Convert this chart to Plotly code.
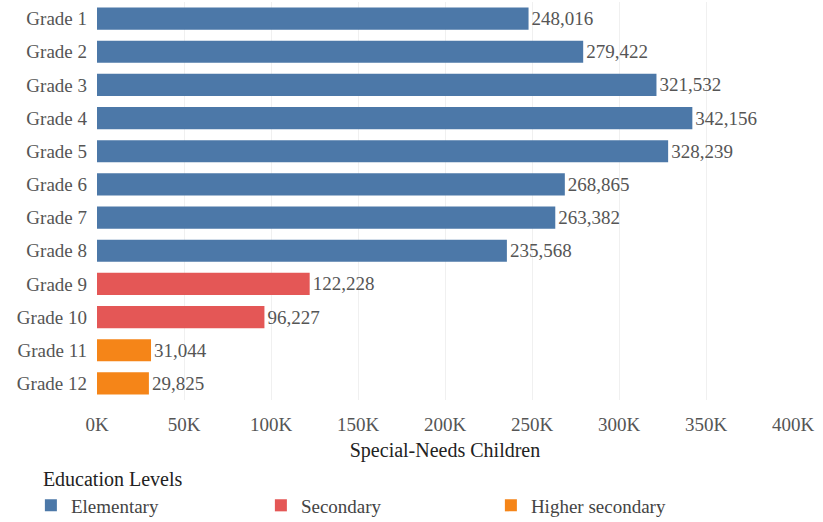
import plotly.graph_objects as go

grades = ["Grade 1", "Grade 2", "Grade 3", "Grade 4", "Grade 5", "Grade 6",
          "Grade 7", "Grade 8", "Grade 9", "Grade 10", "Grade 11", "Grade 12"]
children = [248016, 279422, 321532, 342156, 328239, 268865,
            263382, 235568, 122228, 96227, 31044, 29825]
levels = ["Elementary"] * 8 + ["Secondary"] * 2 + ["Higher secondary"] * 2
level_order = ["Elementary", "Secondary", "Higher secondary"]
level_colors = {"Elementary": "#4c78a8", "Secondary": "#e45756", "Higher secondary": "#f58518"}
tick_vals = [0, 50000, 100000, 150000, 200000, 250000, 300000, 350000, 400000]
tick_text = ["0K", "50K", "100K", "150K", "200K", "250K", "300K", "350K", "400K"]

FONT = "Liberation Serif, Times New Roman, serif"

fig = go.Figure()
for lvl in level_order:
    ys = [g for g, l in zip(grades, levels) if l == lvl]
    xs = [v for v, l in zip(children, levels) if l == lvl]
    fig.add_trace(go.Bar(
        y=ys, x=xs, orientation="h", name=lvl,
        marker=dict(color=level_colors[lvl], line=dict(width=0)),
        text=[f"{v:,}" for v in xs], textposition="outside",
        textfont=dict(family=FONT, size=19, color="#555555"),
        cliponaxis=False,
    ))

fig.update_layout(
    width=823, height=522,
    margin=dict(l=97, r=30, t=2, b=122, autoexpand=False),
    paper_bgcolor="white", plot_bgcolor="white",
    bargap=0.33,
    font=dict(family=FONT, size=19, color="#444444"),
    showlegend=True,
    legend=dict(
        orientation="h", x=-0.095, xanchor="left",
        y=-0.152, yanchor="top",
        title=dict(text="\u00a0\u00a0Education Levels", side="top",
                   font=dict(family=FONT, size=20, color="#222222")),
        font=dict(family=FONT, size=19, color="#444444"),
        entrywidth=185, entrywidthmode="pixels",
        traceorder="normal", tracegroupgap=0,
    ),
)
fig.update_xaxes(
    range=[0, 400000], tickvals=tick_vals, ticktext=tick_text,
    showgrid=True, gridcolor="#f0f0f0", zeroline=False, showline=False,
    tickfont=dict(family=FONT, size=19, color="#555555"),
    title=dict(text="Special-Needs Children", standoff=8,
               font=dict(family=FONT, size=20, color="#222222")),
    ticks="", ticklabelstandoff=11, automargin=False,
)
fig.update_yaxes(
    categoryorder="array", categoryarray=grades, autorange="reversed",
    showgrid=False, showline=False, ticks="",
    tickfont=dict(family=FONT, size=19, color="#555555"),
    ticklabelstandoff=9, automargin=False,
)

fig.write_html("out.html", config={"displayModeBar": False},
               post_script="document.body.style.margin='0';")
